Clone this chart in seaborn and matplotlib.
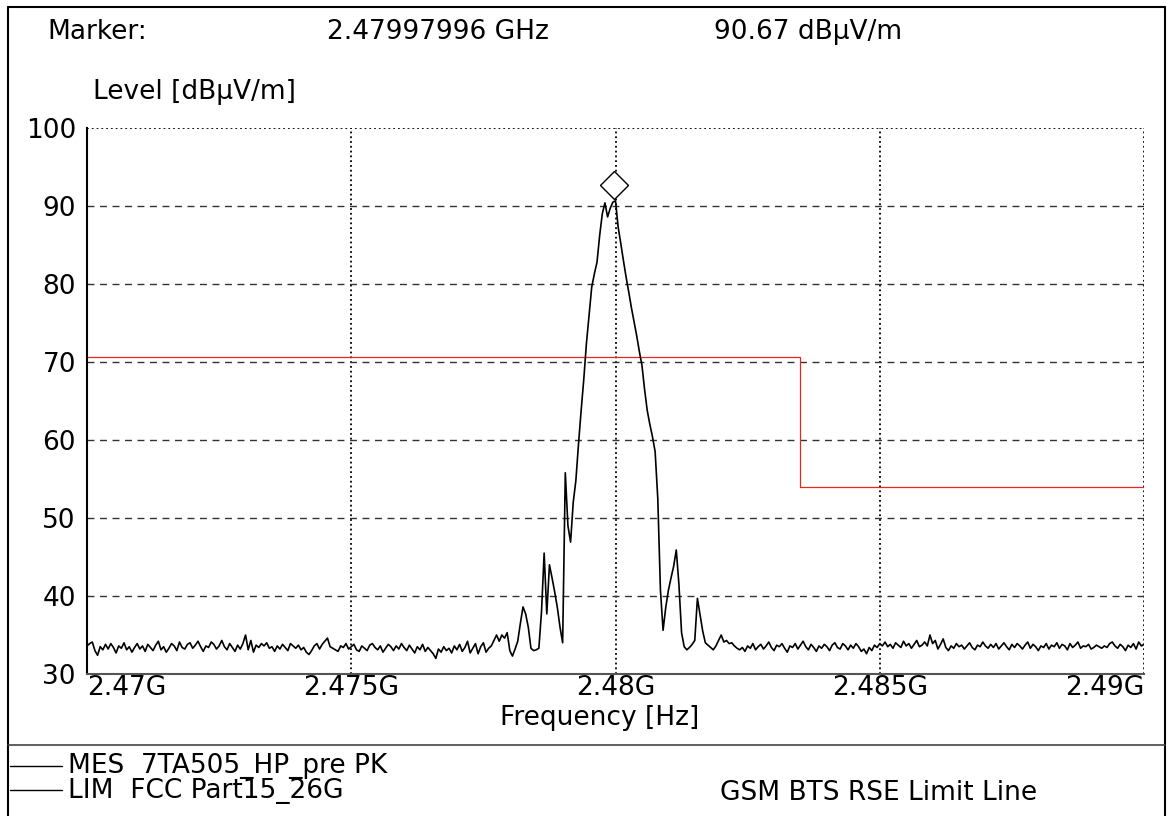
import numpy as np
import pandas as pd
import matplotlib
matplotlib.use("Agg")
import matplotlib.pyplot as plt
import seaborn as sns
from matplotlib.lines import Line2D
from matplotlib.patches import Rectangle
from matplotlib.transforms import offset_copy

# measured level [dBuV/m], sweep 2.47 .. 2.49 GHz in 0.05 MHz steps
noise_left = [
    33.6, 33.9, 34.1, 33.0, 32.4, 33.5, 33.1, 33.8, 33.2, 33.9, 33.4, 32.7, 33.6, 33.3, 34.0, 33.1, 33.5, 32.8, 33.4, 33.9,
    33.2, 33.6, 32.9, 33.8, 33.4, 33.0, 33.7, 34.2, 33.1, 33.5, 32.8, 33.3, 33.9, 33.6, 33.0, 34.1, 33.4, 33.2, 33.8, 34.0,
    33.3, 33.7, 34.2, 33.5, 32.9, 33.6, 33.4, 34.1, 33.8, 33.2, 33.6, 34.3, 33.5, 33.1, 33.9, 33.4, 32.9, 33.7, 33.2, 33.9,
    35.0, 33.1, 34.3, 32.8, 33.7, 33.4, 33.9, 33.6, 34.0, 33.3, 33.5, 32.9, 33.6, 33.2, 33.8, 33.4, 33.0, 33.9, 33.6, 33.3,
    33.7, 33.1, 33.4, 32.8, 32.5, 33.0, 33.6, 33.9, 33.2, 33.8, 34.2, 34.6, 33.5, 33.3, 33.1, 32.9, 33.6, 33.4, 33.9, 33.2,
    33.5, 33.8, 33.1, 32.9, 33.6, 33.3, 33.0, 33.7, 33.9, 33.4, 33.1, 33.6, 32.8, 33.3, 33.8, 33.5, 33.0, 33.6, 33.2, 33.9,
    33.4, 33.0, 33.7, 33.2, 32.7, 33.5, 33.1, 33.8, 32.9, 33.4, 33.0, 32.6, 32.0, 33.2, 32.8, 33.5, 33.0, 33.3, 32.7, 33.6,
    33.1, 33.8, 32.9, 33.4, 34.2, 32.7, 33.3, 33.9, 32.6, 33.5, 34.0, 32.8,
]
peak_region = [
    33.3, 33.6, 34.3, 35.0, 34.2, 35.0, 34.6, 35.3, 33.0, 32.3, 33.2, 34.2, 36.5, 38.6, 37.7, 36.0,
    33.3, 33.0, 33.1, 33.3, 38.0, 45.5, 37.7, 44.0, 42.3, 40.5, 38.5, 36.0, 34.0, 55.8, 49.0, 46.9,
    52.0, 54.8, 59.5, 63.8, 67.8, 72.4, 76.0, 79.6, 81.3, 82.8, 86.2, 89.0, 90.4, 88.6, 89.7, 90.5,
    90.67, 87.3, 85.2, 83.0, 80.9, 79.0, 77.0, 75.2, 73.4, 71.4, 69.6, 66.5, 63.8, 62.0, 60.4, 58.5,
    52.5, 40.8, 35.6, 38.5, 40.7, 42.3, 43.8, 45.9, 41.5, 35.3, 33.5, 33.1, 33.4, 33.8, 34.3, 39.7,
    37.6, 35.5, 34.0, 33.7, 33.4, 33.1, 33.6, 34.3, 35.0, 34.1, 34.3, 33.9, 34.0, 33.6, 33.3, 33.1,
]
noise_right = [
    33.4, 32.9, 33.6, 33.3, 33.9, 33.1, 33.5, 33.8, 33.2, 33.6, 34.1, 33.4, 33.0, 33.7, 33.5, 33.9, 33.3, 32.8, 33.6, 33.4,
    33.9, 33.2, 33.7, 34.2, 33.5, 33.1, 33.8, 33.4, 32.9, 33.6, 33.3, 33.8, 33.5, 33.0, 33.7, 34.0, 33.4, 33.2, 33.9, 33.6,
    33.1, 33.7, 33.3, 33.9, 33.5, 32.9, 33.2, 32.6, 33.4, 33.0, 33.7, 33.4, 33.9, 33.6, 34.1, 33.5, 33.8, 33.3, 34.0, 33.7,
    33.4, 34.2, 33.6, 33.9, 33.3, 33.8, 34.3, 33.5, 33.7, 34.1, 33.6, 35.0, 33.9, 34.3, 33.2, 33.8, 34.5, 33.4, 33.0, 33.6,
    33.3, 33.9, 33.5, 33.7, 33.2, 33.6, 34.0, 33.4, 33.1, 33.7, 33.5, 34.1, 33.6, 33.3, 33.8, 33.4, 33.9, 33.2, 33.6, 34.0,
    33.5, 33.1, 33.8, 33.4, 33.9, 33.6, 33.2, 33.7, 34.1, 33.3, 33.8, 33.5, 33.0, 33.6, 33.4, 33.9, 33.2, 33.7, 33.5, 34.0,
    33.3, 33.8, 33.6, 33.1, 33.9, 33.4, 33.7, 34.1, 33.3, 33.6, 33.5, 33.8, 33.2, 33.4, 33.7, 33.5, 33.3, 33.6, 33.4, 33.9,
    34.1, 33.6, 33.3, 33.8, 33.5, 33.0, 33.7, 33.4, 33.9, 33.2, 34.1, 33.6, 33.8,
]

limit_freq = [2.47e9, 2.4835e9, 2.4835e9, 2.49e9]
limit_level = [70.6, 70.6, 54.0, 54.0]

marker_freq = 2.47997996e9
marker_level = 90.67

x_ticks = [2.47e9, 2.475e9, 2.48e9, 2.485e9, 2.49e9]
x_labels = ["2.47G", "2.475G", "2.48G", "2.485G", "2.49G"]
y_ticks = [30, 40, 50, 60, 70, 80, 90, 100]

level = noise_left + peak_region + noise_right
df = pd.DataFrame({"freq": np.linspace(2.47e9, 2.49e9, len(level)), "level": level})
lim = pd.DataFrame({"freq": limit_freq, "level": limit_level})

sns.set_style("white")
plt.rcParams['font.family'] = ['DejaVu Sans']
plt.rcParams['text.color'] = 'black'

W, H = 1174, 816
fig = plt.figure(figsize=(W / 100, H / 100), dpi=100)
ax = fig.add_axes([87 / W, 1 - 674 / H, (1144 - 87) / W, (674 - 128) / H])

def fx(x):
    return x / W

def fy(y):
    return 1 - y / H

# grid like the receiver software: dotted verticals, dashed horizontals
for xv in x_ticks[1:]:
    ax.axvline(xv, color='black', ls=':', lw=1.3, zorder=1)
for yv in y_ticks[1:-1]:
    ax.axhline(yv, color='#333333', ls=(0, (5, 4)), lw=1.0, zorder=1)
ax.axhline(y_ticks[-1], color='black', ls=':', lw=1.3, zorder=1)

sns.lineplot(data=lim, x="freq", y="level", estimator=None, sort=False,
             color='#e8281e', lw=0.9, ax=ax, zorder=2)
sns.lineplot(data=df, x="freq", y="level", estimator=None, sort=False,
             color='black', lw=1.2, ax=ax, zorder=3)

# marker diamond sits just above the peak
ax.plot([marker_freq], [marker_level], marker='D', ms=14, mfc='white', mec='black', mew=1.0,
        ls='none', zorder=4, clip_on=False,
        transform=offset_copy(ax.transData, fig=fig, y=11, units='points'))

ax.set_xlim(x_ticks[0], x_ticks[-1])
ax.set_ylim(y_ticks[0], y_ticks[-1])
ax.set_xticks(x_ticks)
ax.set_xticklabels(x_labels, fontsize=19, color='black')
ax.set_yticks(y_ticks)
ax.set_yticklabels([str(v) for v in y_ticks], fontsize=19, color='black')
ax.tick_params(axis='both', length=0)
ax.tick_params(axis='x', pad=1)
ax.tick_params(axis='y', pad=8)
ax.set_xlabel("")
ax.set_ylabel("")
for s in ['top', 'right']:
    ax.spines[s].set_visible(False)
ax.spines['left'].set_color('black')
ax.spines['left'].set_linewidth(1.5)
ax.spines['bottom'].set_color('#555555')
ax.spines['bottom'].set_linewidth(1.5)

# first frequency label starts at the axis, last one ends at the right edge
ax.get_xticklabels()[0].set_horizontalalignment('left')
ax.get_xticklabels()[-1].set_horizontalalignment('right')
clip = Rectangle((0, 0), fx(1165), 1, transform=fig.transFigure, visible=False)
fig.add_artist(clip)

txt = dict(fontsize=19, color='black', va='center')
fig.text(fx(97), fy(32), "Marker:", ha='center', **txt)
fig.text(fx(438), fy(32), "2.47997996 GHz", ha='center', **txt)
fig.text(fx(808), fy(32), "90.67 dBµV/m", ha='center', **txt)
fig.text(fx(194), fy(92), "Level [dBµV/m]", ha='center', **txt)
fig.text(fx(600), fy(718), "Frequency [Hz]", ha='center', **txt)

fig.text(fx(68), fy(766), "MES  7TA505_HP_pre PK", ha='left', **txt)
fig.text(fx(68), fy(791), "LIM  FCC Part15_26G", ha='left', **txt)
gsm = fig.text(fx(720), fy(793), "GSM BTS RSE Limit Line", ha='left', **txt)
gsm.set_clip_path(clip)

# frame of the printout
frame = dict(transform=fig.transFigure, color='black', lw=1.5)
fig.add_artist(Line2D([fx(8), fx(8)], [0, fy(7)], **frame))
fig.add_artist(Line2D([fx(8), fx(1165)], [fy(7), fy(7)], **frame))
fig.add_artist(Line2D([fx(1165), fx(1165)], [0, fy(7)], **frame))
fig.add_artist(Line2D([fx(8), fx(1165)], [fy(745), fy(745)], color='#444444', lw=1.2,
                      transform=fig.transFigure))
for ly in [766, 790]:
    fig.add_artist(Line2D([fx(10), fx(62)], [fy(ly), fy(ly)], color='black', lw=1.0,
                          transform=fig.transFigure))

fig.savefig("out.png", dpi=100, facecolor='white')
